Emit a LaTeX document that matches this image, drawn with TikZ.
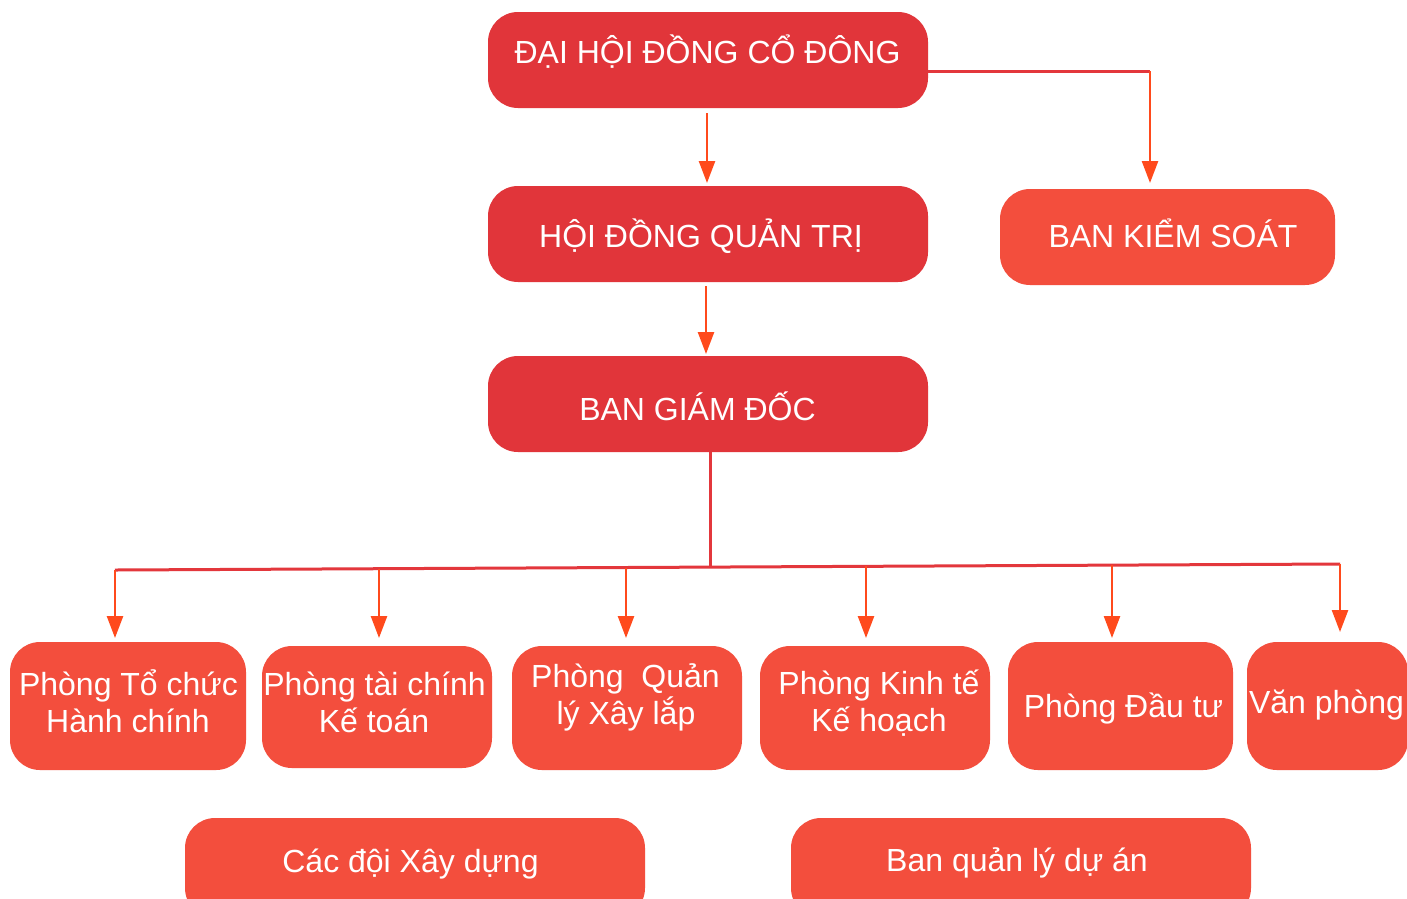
\documentclass[tikz,border=0pt]{standalone}
\usepackage{fontspec}
\setmainfont{Liberation Sans}
\usetikzlibrary{arrows.meta,calc}
\definecolor{boxdark}{RGB}{225,53,58}
\definecolor{boxlight}{RGB}{243,78,61}
\definecolor{linered}{RGB}{227,55,60}
\definecolor{arrorange}{RGB}{255,74,28}
\tikzset{
  box/.style={rounded corners=30pt, draw=none, inner sep=0pt, outer sep=0pt},
  darkbox/.style={box, fill=boxdark},
  lightbox/.style={box, fill=boxlight},
  txt/.style={anchor=base, text=white, inner sep=0pt, font=\fontsize{32}{37}\selectfont},
  redline/.style={draw=linered, line width=3pt},
  arr/.style={draw=arrorange, line width=2.5pt, -{Triangle[length=22pt,width=16pt]}},
}
\begin{document}
\begin{tikzpicture}[x=1pt,y=-1pt]
\clip (0,0) rectangle (1407,898);
\fill[white] (0,0) rectangle (1407,898);
% boxes
\node[darkbox, minimum width=440pt, minimum height=96pt] (dh) at (708,60) {};
\node[darkbox, minimum width=440pt, minimum height=96pt] (hd) at (708,234) {};
\node[lightbox, minimum width=335pt, minimum height=96pt] (bks) at (1167.5,237) {};
\node[darkbox, minimum width=440pt, minimum height=96pt] (bg) at (708,404) {};
\node[lightbox, minimum width=236pt, minimum height=128pt] (p1) at (128,706) {};
\node[lightbox, minimum width=230pt, minimum height=122pt] (p2) at (377,707) {};
\node[lightbox, minimum width=230pt, minimum height=124pt] (p3) at (627,708) {};
\node[lightbox, minimum width=230pt, minimum height=124pt] (p4) at (875,708) {};
\node[lightbox, minimum width=225pt, minimum height=128pt] (p5) at (1120.5,706) {};
\node[lightbox, minimum width=161pt, minimum height=128pt] (p6) at (1327.5,706) {};
\node[lightbox, minimum width=460pt, minimum height=100pt] (cd) at (415,868) {};
\node[lightbox, minimum width=460pt, minimum height=100pt] (bq) at (1021,868) {};
% texts
\node[txt] (t1) at (707.5,63) {ĐẠI HỘI ĐỒNG CỔ ĐÔNG};
\node[txt] (t2) at (701,247) {HỘI ĐỒNG QUẢN TRỊ};
\node[txt] (t3) at (1173,247) {BAN KIỂM SOÁT};
\node[txt] (t4) at (697.5,420) {BAN GIÁM ĐỐC};
\node[txt] (t5a) at (128.5,695) {Phòng Tổ chức};
\node[txt] (t5b) at (128,732) {Hành chính};
\node[txt] (t6a) at (374.5,695) {Phòng tài chính};
\node[txt] (t6b) at (374,732) {Kế toán};
\node[txt] (t7a) at (625.5,687) {Phòng\ \ Quản};
\node[txt] (t7b) at (626,724) {lý Xây lắp};
\node[txt] (t8a) at (879,694) {Phòng Kinh tế};
\node[txt] (t8b) at (879,731) {Kế hoạch};
\node[txt] (t9) at (1123.5,717) {Phòng Đầu tư};
\node[txt] (t10) at (1326.5,713) {Văn phòng};
\node[txt] (t11) at (410.5,872) {Các đội Xây dựng};
\node[txt] (t12) at (1017,871) {Ban quản lý dự án};
% connectors top
\coordinate (k1) at (1150,71);
\draw[redline] ($(dh.east)+(0,11)$) -- (k1);
\draw[arr, shorten >=6pt] (k1) -- (k1 |- bks.north);
\draw[arr, shorten <=5pt, shorten >=3pt] ($(dh.south)+(-1,0)$) -- ($(hd.north)+(-1,0)$);
\draw[arr, shorten <=4pt, shorten >=2pt] ($(hd.south)+(-2,0)$) -- ($(bg.north)+(-2,0)$);
% bus
\coordinate (bl) at (115,570);
\coordinate (br) at (1340,564);
\coordinate (bm) at (710,567);
\coordinate (d2) at (379,568.7);
\coordinate (d3) at (626,567.5);
\coordinate (d4) at (866,566.3);
\coordinate (d5) at (1112,565.1);
\draw[redline] ($(bg.south)+(2,0)$) -- (bm);
\draw[redline] (bl) -- (br);
\draw[arr, shorten >=4pt] (bl) -- (bl |- p1.north);
\draw[arr, shorten >=8pt] (d2) -- (d2 |- p2.north);
\draw[arr, shorten >=8pt] (d3) -- (d3 |- p3.north);
\draw[arr, shorten >=8pt] (d4) -- (d4 |- p4.north);
\draw[arr, shorten >=4pt] (d5) -- (d5 |- p5.north);
\draw[arr, shorten >=10pt] (br) -- (br |- p6.north);
\end{tikzpicture}
\end{document}
